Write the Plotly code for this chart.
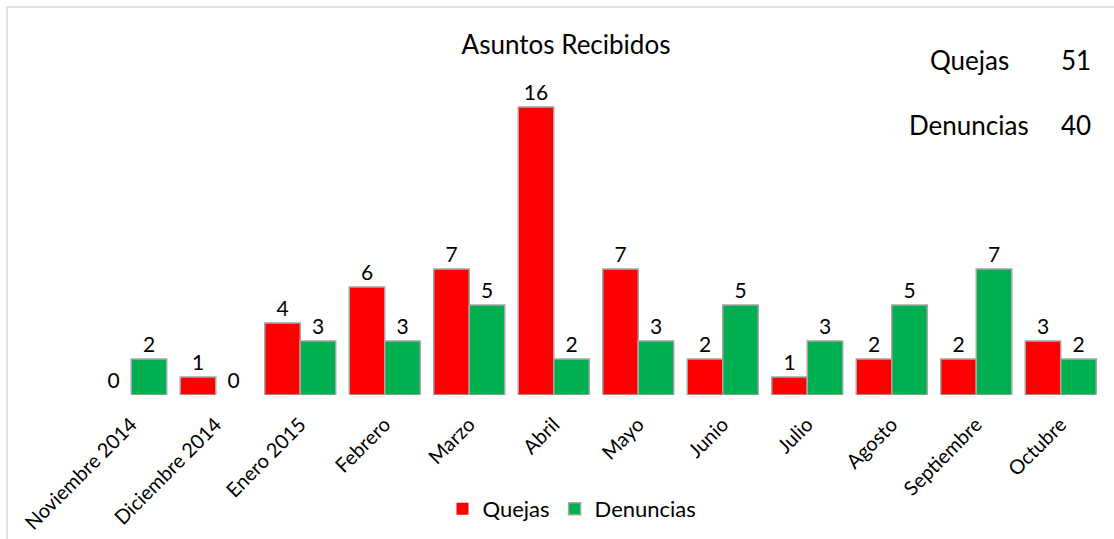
import plotly.graph_objects as go

categories = ["Noviembre 2014", "Diciembre 2014", "Enero 2015", "Febrero", "Marzo", "Abril",
              "Mayo", "Junio", "Julio", "Agosto", "Septiembre", "Octubre"]
quejas = [0, 1, 4, 6, 7, 16, 7, 2, 1, 2, 2, 3]
denuncias = [2, 0, 3, 3, 5, 2, 3, 5, 3, 5, 7, 2]
totals_labels = ["Quejas", "Denuncias"]
totals_values = [51, 40]

FONT = "Lato"
red = "#FF0000"
green = "#00B050"
outline = "#A6A6A6"


def outline_widths(vals):
    return [0 if v == 0 else 1.5 for v in vals]


fig = go.Figure()
fig.add_trace(go.Bar(
    name="Quejas", x=categories, y=quejas, text=[str(v) for v in quejas],
    textposition="outside", cliponaxis=False,
    marker=dict(color=red, line=dict(color=outline, width=outline_widths(quejas))),
    textfont=dict(family=FONT, size=21, color="#000000"),
))
fig.add_trace(go.Bar(
    name="Denuncias", x=categories, y=denuncias, text=[str(v) for v in denuncias],
    textposition="outside", cliponaxis=False,
    marker=dict(color=green, line=dict(color=outline, width=outline_widths(denuncias))),
    textfont=dict(family=FONT, size=21, color="#000000"),
))

ys = [60, 125]
for lab, val, yp in zip(totals_labels, totals_values, ys):
    fig.add_annotation(text=lab, xref="paper", yref="paper",
                       x=(969 - 89) / 1014, y=(395 - yp) / 315,
                       xanchor="center", yanchor="middle", showarrow=False,
                       font=dict(family=FONT, size=26, color="#000000"))
    fig.add_annotation(text=str(val), xref="paper", yref="paper",
                       x=(1093 - 89) / 1014, y=(395 - yp) / 315,
                       xanchor="right", yanchor="middle", showarrow=False,
                       font=dict(family=FONT, size=26, color="#000000"))

fig.add_shape(type="rect", xref="paper", yref="paper",
              x0=(7 - 89) / 1014, x1=(1130 - 89) / 1014,
              y0=(395 - 560) / 315, y1=(395 - 7) / 315,
              line=dict(color="#D9D9D9", width=1.5), fillcolor="rgba(0,0,0,0)")

fig.update_layout(
    width=1114, height=539,
    margin=dict(l=89, r=11, t=80, b=144, autoexpand=False),
    paper_bgcolor="white", plot_bgcolor="white",
    barmode="group", bargap=0.16, bargroupgap=0,
    title=dict(text="Asuntos Recibidos", x=(566 - 89) / 1014, xref="paper",
               xanchor="center", y=1 - 45 / 539, yanchor="middle",
               font=dict(family=FONT, size=26, color="#000000")),
    xaxis=dict(tickangle=-45, showgrid=False, showline=False, automargin=False,
               ticks="outside", ticklen=9, tickcolor="rgba(0,0,0,0)",
               tickfont=dict(family=FONT, size=20, color="#000000")),
    yaxis=dict(range=[0, 17.5], visible=False, showgrid=False, automargin=False),
    legend=dict(orientation="h", x=(572 - 89) / 1014, xanchor="center",
                y=(395 - 509) / 315, yanchor="middle",
                font=dict(family=FONT, size=22, color="#000000")),
    showlegend=True,
)

fig.write_html("out.html", post_script="document.body.style.margin='0';",
               config={"displayModeBar": False})
